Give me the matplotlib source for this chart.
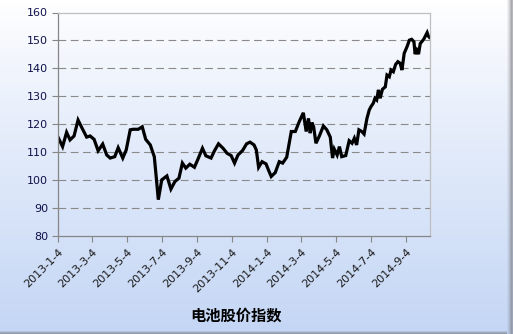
import matplotlib
matplotlib.use("Agg")
import matplotlib.pyplot as plt
import numpy as np
import pandas as pd

plt.rcParams['font.family'] = ['DejaVu Sans']

# days after 2013-01-04 and index values
days = [0, 8, 15, 21, 28, 35, 42, 50, 56, 63, 70, 78, 85, 91, 99, 105, 113, 119,
        126, 131, 140, 147, 153, 161, 165, 168, 171, 175, 181, 190, 197, 204, 211,
        217, 223, 230, 238, 245, 252, 258, 267, 273, 280, 288, 295, 302, 308, 314,
        322, 329, 335, 342, 346, 350, 356, 363, 367, 372, 379, 386, 392, 399, 407,
        414, 421, 428, 433, 437, 440, 443, 446, 450, 456, 463, 469, 475, 479, 482,
        487, 491, 495, 502, 508, 513, 517, 521, 525, 530, 534, 539, 543, 546, 550,
        553, 556, 559, 562, 566, 571, 574, 578, 581, 585, 589, 593, 597, 600, 604,
        609, 613, 617, 621, 623, 626, 629, 632, 638, 644, 646, 648]
index = [115.4, 112.0, 117.1, 114.4, 115.8, 121.5, 118.6, 115.4, 115.8, 114.6,
         110.5, 112.9, 109.0, 107.9, 108.4, 111.6, 107.9, 110.8, 118.0, 118.2,
         118.2, 119.1, 114.6, 112.6, 110.2, 108.4, 101.9, 93.0, 100.1, 101.5,
         96.8, 99.5, 100.7, 106.1, 104.3, 105.7, 104.6, 107.9, 111.4, 108.7,
         107.9, 110.5, 113.0, 111.4, 109.6, 108.8, 106.1, 109.0, 110.6, 113.0,
         113.6, 112.6, 110.8, 104.6, 106.6, 105.8, 103.7, 101.3, 102.7, 106.6,
         106.1, 108.2, 117.4, 117.4, 121.0, 124.1, 117.4, 122.1, 116.8, 120.6,
         119.1, 113.2, 115.8, 119.4, 118.0, 115.4, 107.9, 111.1, 109.0, 112.0,
         108.4, 108.8, 114.1, 113.2, 115.0, 112.6, 118.0, 117.4, 116.5, 122.1,
         125.1, 126.3, 127.5, 129.3, 128.7, 132.3, 129.3, 132.5, 133.4, 137.6,
         137.0, 139.4, 138.8, 141.4, 142.4, 141.8, 139.4, 145.4, 147.8, 150.1,
         150.4, 149.5, 145.1, 146.5, 145.1, 148.9, 150.4, 152.8, 151.6, 151.1]
tick_labels = ['2013-1-4', '2013-3-4', '2013-5-4', '2013-7-4', '2013-9-4', '2013-11-4',
               '2014-1-4', '2014-3-4', '2014-5-4', '2014-7-4', '2014-9-4']
title = '电池股价指数'

start = pd.Timestamp('2013-01-04')
dates = start + pd.to_timedelta(days, unit='D')
tick_dates = pd.to_datetime(tick_labels)

W, H = 513, 334
fig = plt.figure(figsize=(W / 100, H / 100), dpi=100)

# background: white to light blue gradient with a shadow on the right and bottom
t = np.linspace(0, 1, H)[:, None]
top = np.array([1.0, 1.0, 1.0])
bot = np.array([196, 214, 245]) / 255
bg = np.ones((H, W, 3)) * (top + (bot - top) * t[..., None] ** 0.9)
shade = np.array([0.45, 0.45, 0.47])
for i, a in enumerate([0.08, 0.18, 0.3, 0.45, 0.6, 0.5]):
    x = W - 6 + i
    bg[:, x] = bg[:, x] * (1 - a) + shade * a
for i, a in enumerate([0.2, 0.45, 0.6]):
    y = H - 3 + i
    bg[y, :W - 6] = bg[y, :W - 6] * (1 - a) + shade * a
bga = fig.add_axes([0, 0, 1, 1])
bga.imshow(bg, aspect='auto', extent=[0, 1, 0, 1])
bga.axis('off')

ax = fig.add_axes([58 / W, 1 - 236 / H, (430 - 58) / W, (236 - 12.5) / H])
ax.set_facecolor('none')
ax.plot(dates, index, color='black', lw=2.3, solid_joinstyle='miter')

ax.set_ylim(80, 160)
ax.set_yticks(np.arange(80, 161, 10))
ax.set_xlim(start, start + pd.Timedelta(days=649))
ax.set_xticks(tick_dates)
ax.set_xticklabels(tick_labels, rotation=45, ha='right', va='top',
                   rotation_mode='anchor', fontsize=8, color='#1a1a1a')
ax.tick_params(axis='y', labelsize=8, labelcolor='#10104a', length=4,
               color='#868686', direction='out', pad=3)
ax.tick_params(axis='x', length=4, color='#868686', direction='out', pad=4)

for v in range(90, 160, 10):
    ax.axhline(v, color='#8a8a8a', lw=0.8, dashes=(7, 4), zorder=0)

ax.spines['left'].set_color('#868686')
ax.spines['bottom'].set_color('#868686')
ax.spines['top'].set_color('#c0c0c0')
ax.spines['right'].set_color('#c0c0c0')
for s in ax.spines.values():
    s.set_linewidth(0.9)

fig.text(236 / W, 1 - 316 / H, title, ha='center', va='center', fontsize=11,
         fontweight='bold', family=['Noto Sans CJK SC', 'DejaVu Sans'])

fig.savefig('out.png', dpi=100)
